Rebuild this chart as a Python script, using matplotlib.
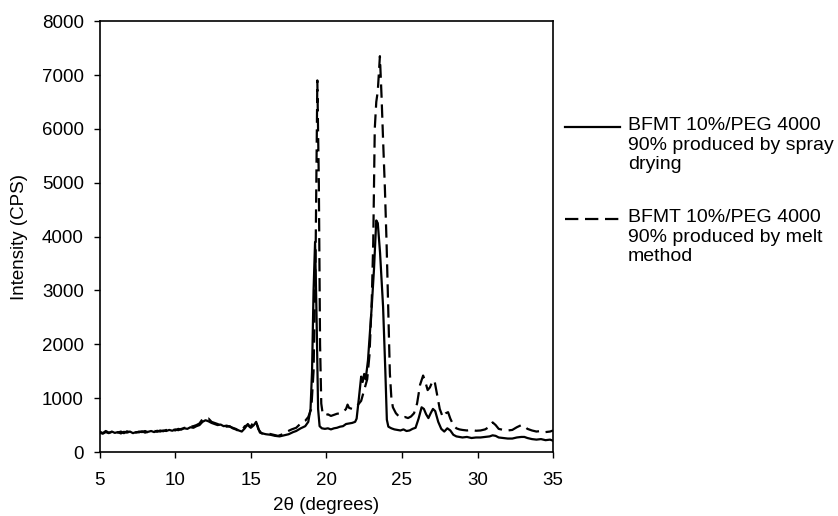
import matplotlib.pyplot as plt
from matplotlib.lines import Line2D

plt.rcParams['font.family'] = ['Liberation Sans', 'DejaVu Sans']

# BFMT 10%/PEG 4000 90%, spray drying (solid)
spray_2theta = [5.0, 5.2, 5.4, 5.6, 5.8, 6.0, 6.2, 6.4, 6.6, 6.8, 7.0, 7.2, 7.4, 7.6, 7.8,
                8.0, 8.2, 8.4, 8.6, 8.8, 9.0, 9.2, 9.4, 9.6, 9.8, 10.0, 10.2, 10.4, 10.6,
                10.8, 11.0, 11.2, 11.4, 11.6, 11.8, 12.0, 12.2, 12.4, 12.6, 12.8, 13.0,
                13.2, 13.4, 13.6, 13.8, 14.0, 14.2, 14.4, 14.6, 14.8, 15.0, 15.2, 15.35,
                15.5, 15.7, 16.0, 16.3, 16.6, 16.9, 17.2, 17.5, 17.8, 18.0, 18.3, 18.6,
                18.8, 18.95, 19.05, 19.15, 19.25, 19.35, 19.45, 19.55, 19.7, 19.9, 20.1,
                20.3, 20.5, 20.7, 20.9, 21.1, 21.3, 21.5, 21.7, 21.9, 22.0, 22.15, 22.3,
                22.4, 22.5, 22.6, 22.75, 22.9, 23.0, 23.15, 23.3, 23.4, 23.55, 23.75,
                23.9, 24.0, 24.1, 24.3, 24.5, 24.7, 24.9, 25.1, 25.3, 25.5, 25.7, 25.9,
                26.1, 26.3, 26.45, 26.6, 26.75, 26.9, 27.05, 27.2, 27.4, 27.6, 27.8,
                28.0, 28.2, 28.4, 28.6, 28.8, 29.0, 29.3, 29.6, 29.9, 30.2, 30.5, 30.8,
                31.0, 31.2, 31.4, 31.7, 32.0, 32.3, 32.6, 32.9, 33.1, 33.3, 33.6, 33.9,
                34.2, 34.5, 34.8, 35.0]
spray_cps = [360, 340, 370, 350, 380, 355, 370, 345, 375, 360, 380, 350, 370, 365, 385,
             360, 375, 390, 370, 395, 380, 400, 390, 410, 395, 420, 405, 430, 440,
             430, 460, 450, 480, 500, 560, 590, 570, 540, 520, 500, 510,
             480, 490, 470, 450, 430, 400, 380, 440, 520, 450, 500, 560,
             420, 350, 330, 320, 300, 290, 310, 330, 370, 390, 440, 480,
             560, 800, 1500, 3000, 3900, 2500, 800, 480, 440, 430, 440,
             420, 440, 450, 470, 480, 520, 530, 540, 560, 620, 1000, 1400,
             1300, 1450, 1350, 1700, 2300, 2700, 3400, 4300, 4250, 3700, 2700,
             1500, 600, 470, 440, 420, 410, 400, 420, 390, 400, 430, 450,
             620, 830, 800, 700, 630, 720, 800, 760, 560, 430, 380,
             440, 400, 320, 290, 280, 270, 280, 260, 270, 270, 280, 290,
             310, 300, 270, 260, 250, 250, 270, 280, 280, 260, 240, 230,
             240, 220, 230, 210]

# BFMT 10%/PEG 4000 90%, melt method (dashed)
melt_2theta = [5.0, 5.2, 5.4, 5.6, 5.8, 6.0, 6.2, 6.4, 6.6, 6.8, 7.0, 7.2, 7.4, 7.6, 7.8,
               8.0, 8.2, 8.4, 8.6, 8.8, 9.0, 9.2, 9.4, 9.6, 9.8, 10.0, 10.2, 10.4, 10.6,
               10.8, 11.0, 11.2, 11.4, 11.6, 11.8, 12.0, 12.2, 12.4, 12.6, 12.8, 13.0,
               13.2, 13.4, 13.6, 13.8, 14.0, 14.2, 14.4, 14.6, 14.8, 14.95, 15.1, 15.3,
               15.45, 15.6, 15.9, 16.2, 16.5, 16.8, 17.1, 17.4, 17.7, 18.0, 18.3, 18.6,
               18.8, 19.0, 19.15, 19.28, 19.4, 19.5, 19.58, 19.66, 19.75, 19.9, 20.1,
               20.3, 20.5, 20.7, 20.9, 21.1, 21.3, 21.4, 21.5, 21.7, 21.9, 22.1, 22.3,
               22.5, 22.7, 22.85, 23.0, 23.1, 23.2, 23.3, 23.4, 23.54, 23.65, 23.75,
               23.87, 23.98, 24.1, 24.2, 24.3, 24.4, 24.6, 24.8, 25.0, 25.2, 25.4, 25.6,
               25.8, 26.0, 26.2, 26.4, 26.55, 26.7, 26.85, 27.0, 27.15, 27.3, 27.5,
               27.7, 27.9, 28.05, 28.2, 28.4, 28.6, 28.8, 29.0, 29.3, 29.6, 29.9, 30.2,
               30.5, 30.8, 31.0, 31.2, 31.4, 31.7, 32.0, 32.3, 32.6, 32.9, 33.1, 33.3,
               33.6, 33.9, 34.2, 34.5, 34.8, 35.0]
melt_cps = [380, 350, 390, 360, 370, 395, 360, 380, 350, 385, 365, 390, 360, 380, 370,
            390, 365, 380, 395, 375, 400, 385, 410, 395, 420, 400, 430, 415, 450,
            440, 470, 480, 500, 530, 610, 600, 620, 560, 540, 520, 490,
            500, 470, 480, 440, 420, 390, 400, 480, 500, 460, 520, 580,
            480, 360, 330, 340, 320, 300, 330, 380, 420, 450, 530, 580,
            650, 800, 1500, 3500, 6900, 5000, 2000, 900, 720, 680, 700,
            670, 690, 710, 720, 740, 800, 880, 820, 800, 830, 880, 950,
            1150, 1350, 1800, 2800, 3900, 6000, 6500, 6700, 7350, 6600, 5800,
            4900, 3900, 2600, 1460, 1000, 830, 720, 660, 640, 650, 630, 660,
            720, 900, 1250, 1420, 1300, 1150, 1200, 1300, 1330, 1100, 800,
            650, 720, 740, 620, 500, 440, 420, 410, 400, 410, 395, 400,
            420, 470, 550, 500, 430, 410, 400, 410, 460, 500, 480, 430,
            400, 380, 390, 370, 380, 400]

legend_labels = ["BFMT 10%/PEG 4000\n90% produced by spray\ndrying",
                 "BFMT 10%/PEG 4000\n90% produced by melt\nmethod"]

fig = plt.figure(figsize=(8.38, 5.16), dpi=100)
ax = fig.add_axes([0.119, 0.124, 0.541, 0.835])

dash = (0, (6, 3))
ax.plot(spray_2theta, spray_cps, color='black', lw=1.6)
ax.plot(melt_2theta, melt_cps, color='black', lw=1.6, linestyle=dash)

ax.set_xlim(5, 35)
ax.set_ylim(0, 8000)
ax.set_xticks(range(5, 36, 5))
ax.set_yticks(range(0, 8001, 1000))
ax.tick_params(direction='out', length=4.5, width=1, labelsize=13.5)
ax.tick_params(axis='x', pad=10)
ax.tick_params(axis='y', pad=7)
for s in ax.spines.values():
    s.set_linewidth(1.2)

ax.set_xlabel("2\u03b8 (degrees)", fontsize=13.5, labelpad=6)
ax.set_ylabel("Intensity (CPS)", fontsize=13.5, labelpad=10)

# legend drawn beside the plot, key line next to the first text line
for ky, ty, ls, lab in [(0.754, 0.773, '-', legend_labels[0]),
                        (0.5756, 0.595, dash, legend_labels[1])]:
    fig.add_artist(Line2D([0.674, 0.740], [ky, ky], color='black', lw=1.6,
                          linestyle=ls, transform=fig.transFigure))
    fig.text(0.749, ty, lab, fontsize=14, va='top', ha='left', linespacing=1.2)

fig.savefig("out.png", dpi=100)
